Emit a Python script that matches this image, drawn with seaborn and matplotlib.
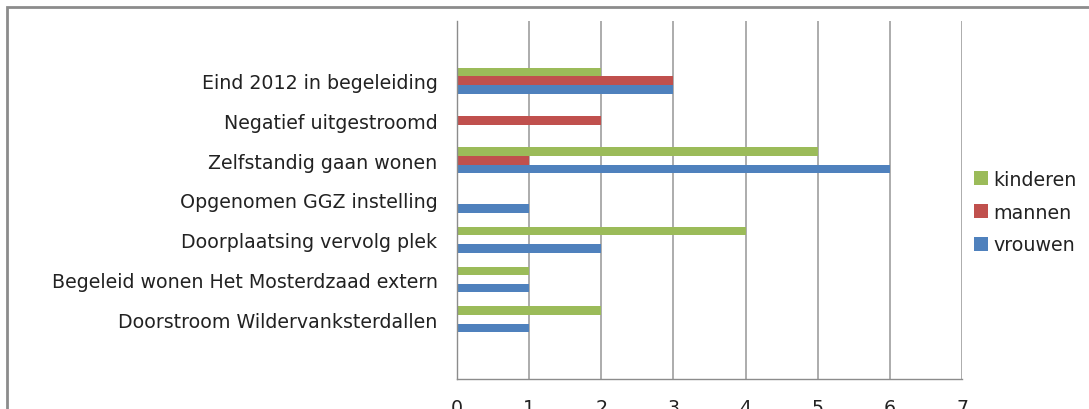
import matplotlib
matplotlib.use("Agg")
import matplotlib.pyplot as plt
import seaborn as sns
import pandas as pd
from matplotlib.patches import Rectangle

# categories (top to bottom), blank rows at top and bottom like the original
categories = [" ", "Eind 2012 in begeleiding", "Negatief uitgestroomd", "Zelfstandig gaan wonen",
              "Opgenomen GGZ instelling", "Doorplaatsing vervolg plek",
              "Begeleid wonen Het Mosterdzaad extern", "Doorstroom Wildervanksterdallen", "  "]
kinderen = [0, 2, 0, 5, 0, 4, 1, 2, 0]
mannen = [0, 3, 2, 1, 0, 0, 0, 0, 0]
vrouwen = [0, 3, 0, 6, 1, 2, 1, 1, 0]
series = ["kinderen", "mannen", "vrouwen"]
colors = ["#9BBB59", "#C0504D", "#4F81BD"]

rows = []
for name, vals in zip(series, [kinderen, mannen, vrouwen]):
    for cat, v in zip(categories, vals):
        rows.append({"Categorie": cat, "Groep": name, "Aantal": v})
df = pd.DataFrame(rows)

sns.set_style("white")
plt.rcParams['font.family'] = ['DejaVu Sans']
fs = 13.7

fig = plt.figure(figsize=(10.89, 4.10), dpi=100)
ax = fig.add_axes([457/1089, 1-380/410, (962-457)/1089, (380-22)/410])

sns.barplot(data=df, y="Categorie", x="Aantal", hue="Groep", order=categories,
            hue_order=series, palette=colors, saturation=1, orient="h", width=0.65,
            linewidth=0, ax=ax)

ax.set_xlim(0, 7)
ax.set_ylim(8.5, -0.5)
ax.set_xticks(range(0, 8))
ax.xaxis.grid(True, color="#A6A6A6", linewidth=1.3)
ax.set_axisbelow(True)
ax.set_xlabel("")
ax.set_ylabel("")

for s in ["top", "right"]:
    ax.spines[s].set_visible(False)
for s in ["left", "bottom"]:
    ax.spines[s].set_color("#8C8C8C")
    ax.spines[s].set_linewidth(1.0)

# labels on the categories, tick marks on the boundaries
ax.set_yticks([i - 0.5 for i in range(len(categories) + 1)], minor=True)
ax.tick_params(axis="y", which="major", length=0, pad=14, labelsize=fs, labelcolor="#222222")
ax.tick_params(axis="y", which="minor", length=6, color="#8C8C8C", width=1, direction="out")
ax.tick_params(axis="x", length=5, color="#8C8C8C", width=1, pad=9, labelsize=fs,
               labelcolor="#222222")

leg = ax.legend(loc="center left", bbox_to_anchor=(0.99, 0.466), frameon=False,
                fontsize=fs, handlelength=0.75, handleheight=0.75, handletextpad=0.25,
                labelspacing=0.72)
for t in leg.get_texts():
    t.set_color("#222222")

# outer chart frame
fig.patches.append(Rectangle((7/1089, -0.1), 1.2, 1 - 8/410 + 0.1, transform=fig.transFigure,
                             fill=False, edgecolor="#8C8C8C", linewidth=2, zorder=10))

fig.savefig("out.png", dpi=100)
